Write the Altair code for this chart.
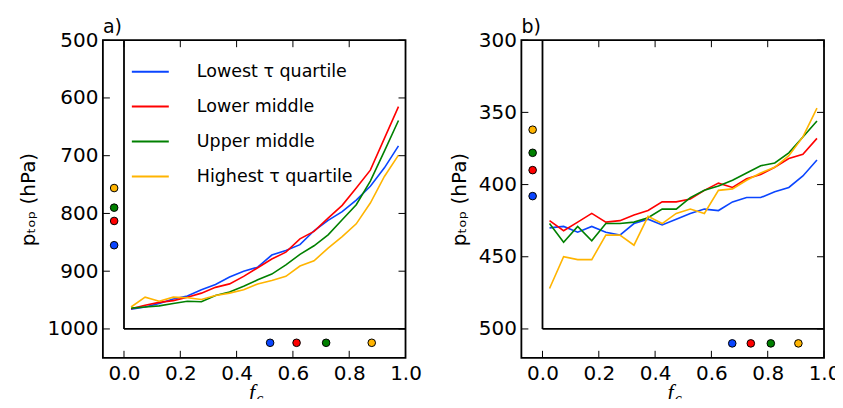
import altair as alt
import pandas as pd

# ---------------- data ----------------
series = ["Lowest τ quartile", "Lower middle", "Upper middle", "Highest τ quartile"]
colors = ["#0a45ff", "#ff0000", "#008000", "#ffb400"]

fc = [0.025, 0.075, 0.125, 0.175, 0.225, 0.275, 0.325, 0.375, 0.425, 0.475,
      0.525, 0.575, 0.625, 0.675, 0.725, 0.775, 0.825, 0.875, 0.925, 0.975]

# panel a)
a_lowest = [966, 962, 956, 948, 943, 932, 923, 910, 900, 893, 872, 864, 854, 830, 812, 797, 777, 753, 721, 683]
a_lowmid = [965, 959, 954, 951, 945, 938, 928, 922, 909, 894, 879, 867, 844, 831, 808, 786, 756, 725, 670, 615]
a_upmid = [964, 962, 960, 956, 952, 953, 942, 936, 926, 915, 905, 889, 871, 856, 837, 811, 785, 744, 692, 639]
a_highest = [962, 945, 952, 945, 946, 949, 942, 938, 932, 922, 916, 909, 891, 882, 860, 840, 818, 782, 736, 699]
a_dot_left_p = [855, 813, 790, 756]
a_dot_bottom_fc = [0.519, 0.613, 0.718, 0.880]

# panel b)
b_lowest = [430, 429, 433, 429, 433, 435, 427, 424, 428, 424, 420, 417, 418, 412, 409, 409, 405, 402, 394, 383]
b_lowmid = [425, 432, 426, 420, 426, 425, 421, 418, 412, 412, 410, 404, 399, 402, 396, 393, 388, 382, 379, 368]
b_upmid = [427, 440, 429, 439, 427, 427, 426, 423, 417, 417, 409, 404, 401, 397, 392, 387, 385, 378, 367, 356]
b_highest = [472, 450, 452, 452, 435, 435, 442, 422, 427, 420, 417, 420, 404, 403, 397, 392, 388, 380, 367, 347]
b_dot_left_p = [408, 390, 378, 362]
b_dot_bottom_fc = [0.674, 0.740, 0.811, 0.909]

dot_left_fc = -0.035
a_dot_bottom_p = 1024
b_dot_bottom_p = 510

x_ticks = [0.0, 0.2, 0.4, 0.6, 0.8, 1.0]
a_y_ticks = [500, 600, 700, 800, 900, 1000]
b_y_ticks = [300, 350, 400, 450, 500]

W, H = 303, 318
FONT = "DejaVu Sans"


def panel(vals, dot_left_p, dot_bottom_fc, dot_bottom_p, ydom, yticks, ybase, label, show_legend):
    rows = []
    for s, v in zip(series, vals):
        for x, y in zip(fc, v):
            rows.append({"fc": x, "p": y, "series": s})
    df = pd.DataFrame(rows)

    xscale = alt.Scale(domain=[-0.075, 1.0], nice=False, zero=False)
    yscale = alt.Scale(domain=ydom, nice=False, zero=False, reverse=True)

    if show_legend:
        legend = alt.Legend(
            orient="none", legendX=28, legendY=12, title=None,
            symbolType="stroke", symbolSize=1369, symbolStrokeWidth=2,
            labelFontSize=17.5, labelFont=FONT, labelColor="black",
            labelOffset=27, rowPadding=7, padding=0,
        )
    else:
        legend = None
    cscale = alt.Scale(domain=series, range=colors)

    lines = alt.Chart(df).mark_line(strokeWidth=1.6).encode(
        x=alt.X("fc:Q", scale=xscale,
                axis=alt.Axis(values=x_ticks, format=".1f", ticks=False, domain=False,
                              grid=False, labelFontSize=20, labelPadding=6,
                              labelFlush=False, labelOverlap=False, title=None)),
        y=alt.Y("p:Q", scale=yscale,
                axis=alt.Axis(values=yticks, format="d", ticks=False, domain=False,
                              grid=False, labelFontSize=20, labelPadding=5,
                              labelFlush=False, labelOverlap=False,
                              title="pₜₒₚ (hPa)", titleFontSize=20,
                              titleFontWeight="normal", titleFont=FONT, titlePadding=9)),
        color=alt.Color("series:N", scale=cscale, legend=legend),
    )

    # inner L-shaped axis lines
    vdf = pd.DataFrame({"x": [0.0], "y": [ydom[0]], "y2": [ybase]})
    hdf = pd.DataFrame({"x": [0.0], "x2": [1.0], "y": [ybase]})
    vline = alt.Chart(vdf).mark_rule(color="black", strokeWidth=1.8).encode(
        x="x:Q", y="y:Q", y2="y2:Q")
    hline = alt.Chart(hdf).mark_rule(color="black", strokeWidth=1.8).encode(
        x="x:Q", x2="x2:Q", y="y:Q")

    # inward ticks on the frame
    xt = pd.DataFrame({"t": x_ticks})
    yt = pd.DataFrame({"t": yticks})
    tick_top = alt.Chart(xt).mark_rule(color="black", strokeWidth=1).encode(
        x="t:Q", y=alt.value(0), y2=alt.value(7))
    tick_bot = alt.Chart(xt).mark_rule(color="black", strokeWidth=1).encode(
        x="t:Q", y=alt.value(H - 7), y2=alt.value(H))
    tick_left = alt.Chart(yt).mark_rule(color="black", strokeWidth=1).encode(
        y="t:Q", x=alt.value(0), x2=alt.value(7))
    tick_right = alt.Chart(yt).mark_rule(color="black", strokeWidth=1).encode(
        y="t:Q", x=alt.value(W - 7), x2=alt.value(W))

    # summary dots
    ddf = pd.DataFrame({
        "fc": [dot_left_fc] * 4 + dot_bottom_fc,
        "p": dot_left_p + [dot_bottom_p] * 4,
        "series": series + series,
    })
    dots = alt.Chart(ddf).mark_circle(size=58, opacity=1, stroke="black", strokeWidth=1).encode(
        x="fc:Q", y="p:Q", color=alt.Color("series:N", scale=cscale, legend=None))

    # x-axis title f_c
    ft = alt.Chart(pd.DataFrame({"t": ["f"]})).mark_text(
        font="Liberation Serif", fontStyle="italic", fontSize=22, baseline="alphabetic",
        align="right", color="black").encode(text="t:N", x=alt.value(W / 2 + 1), y=alt.value(H + 41))
    ct = alt.Chart(pd.DataFrame({"t": ["c"]})).mark_text(
        font="Liberation Serif", fontStyle="italic", fontSize=16, baseline="alphabetic",
        align="left", color="black").encode(text="t:N", x=alt.value(W / 2 + 2), y=alt.value(H + 46))

    return alt.layer(lines, vline, hline, tick_top, tick_bot, tick_left, tick_right,
                     dots, ft, ct).properties(
        width=W, height=H,
        title=alt.TitleParams(label, anchor="start", frame="group", fontSize=19,
                              font=FONT, fontWeight="normal", offset=-7, color="black"),
    )


pa = panel([a_lowest, a_lowmid, a_upmid, a_highest], a_dot_left_p, a_dot_bottom_fc,
           a_dot_bottom_p, [500, 1050], a_y_ticks, 1000, "a)", True)
pb = panel([b_lowest, b_lowmid, b_upmid, b_highest], b_dot_left_p, b_dot_bottom_fc,
           b_dot_bottom_p, [300, 520], b_y_ticks, 500, "b)", False)

chart = alt.hconcat(pa, pb, spacing=116, bounds="flush").properties(
    padding={"left": 9, "top": 9, "right": -6, "bottom": -9}
).configure_view(stroke="black", strokeWidth=1.8).configure_axis(
    labelFont=FONT, labelColor="black", titleColor="black"
)

chart.save("out.html", embed_options={"renderer": "svg", "actions": False})
